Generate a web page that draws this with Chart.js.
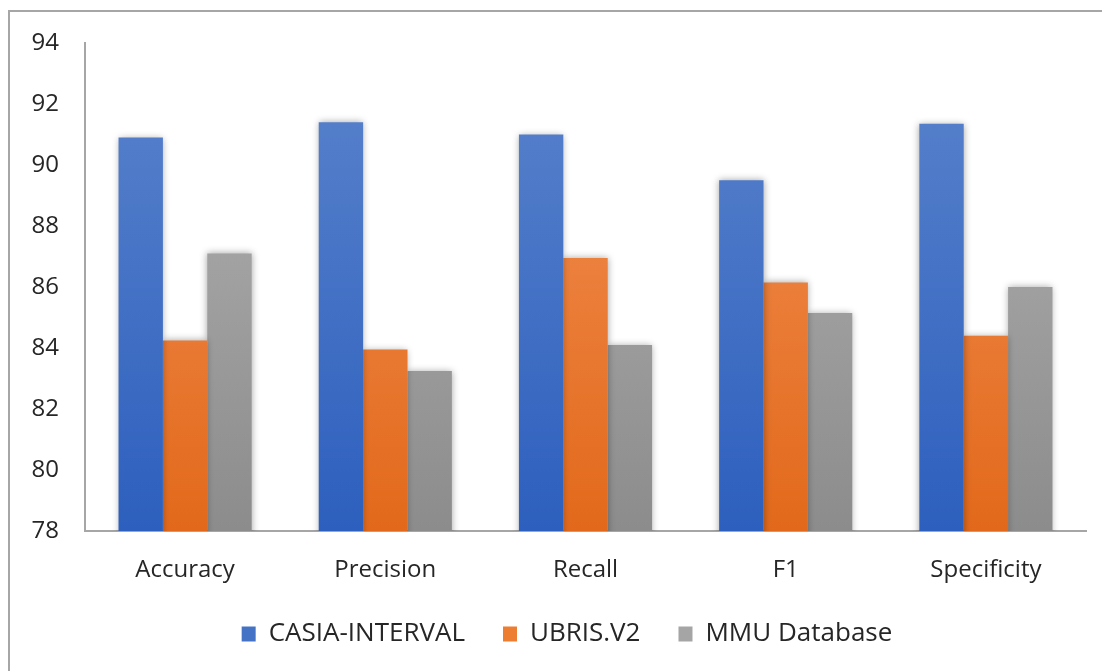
<!DOCTYPE html>
<html>
<head>
<meta charset="utf-8">
<script src="https://cdn.jsdelivr.net/npm/chart.js@4.4.1/dist/chart.umd.min.js"></script>
<style>
    html, body { margin: 0; padding: 0; background: #fff; }
    #frame {
        position: absolute; left: 8px; top: 10px; width: 1200px; height: 800px;
        border-top: 2px solid #a6a6a6; border-left: 2px solid #a6a6a6;
    }
    #wrap { position: absolute; left: 0; top: 0; width: 1102px; height: 671px; }
</style>
</head>
<body>
<div id="frame"></div>
<div id="wrap"><canvas id="chart"></canvas></div>
<script>
// valores
const categories = ['Accuracy', 'Precision', 'Recall', 'F1', 'Specificity'];
const casiaValues = [90.9, 91.4, 91.0, 89.5, 91.35];
const ubrisValues = [84.25, 83.95, 86.95, 86.15, 84.4];
const mmuValues = [87.1, 83.25, 84.1, 85.15, 86.0];
const yTicks = [78, 80, 82, 84, 86, 88, 90, 92, 94];

const FONT = '"Open Sans", sans-serif';

// degradê vertical estilo Excel
function gradient(top, bottom, solid) {
    return function (context) {
        const area = context.chart.chartArea;
        if (!area) return solid;
        const g = context.chart.ctx.createLinearGradient(0, area.top, 0, area.bottom);
        g.addColorStop(0, top);
        g.addColorStop(1, bottom);
        return g;
    };
}

// sombra suave nas barras
const barShadow = {
    id: 'barShadow',
    beforeDatasetsDraw(chart) {
        const ctx = chart.ctx;
        ctx.save();
        ctx.shadowColor = 'rgba(0, 0, 0, 0.35)';
        ctx.shadowBlur = 7;
        ctx.shadowOffsetX = 0;
        ctx.shadowOffsetY = 0;
    },
    afterDatasetsDraw(chart) {
        chart.ctx.restore();
    }
};

// ajusta a posição da legenda (o padding grande dos itens empurra ela pra baixo)
const legendShift = {
    id: 'legendShift',
    afterLayout(chart) {
        const lg = chart.legend;
        if (lg) {
            lg.top -= 8;
            lg.bottom -= 8;
            lg.left += 24;
            lg.right += 24;
        }
    }
};

new Chart(document.getElementById('chart'), {
    type: 'bar',
    data: {
        labels: categories,
        datasets: [
            { label: 'CASIA-INTERVAL', data: casiaValues, backgroundColor: gradient('#5b84cc', '#2d5fbe', '#4472c4') },
            { label: 'UBRIS.V2', data: ubrisValues, backgroundColor: gradient('#f39257', '#e2691b', '#ed7d31') },
            { label: 'MMU Database', data: mmuValues, backgroundColor: gradient('#b3b3b3', '#8c8c8c', '#a5a5a5') }
        ]
    },
    options: {
        responsive: true,
        maintainAspectRatio: false,
        animation: false,
        datasets: { bar: { categoryPercentage: 0.665, barPercentage: 1.0 } },
        layout: { padding: { left: 0, right: 16, top: 43, bottom: 6 } },
        plugins: {
            tooltip: { enabled: false },
            legend: {
                position: 'bottom',
                labels: {
                    font: { family: FONT, size: 26 },
                    color: '#262626',
                    boxWidth: 14,
                    boxHeight: 15,
                    padding: 38,
                    generateLabels(chart) {
                        const solid = ['#4472c4', '#ed7d31', '#a5a5a5'];
                        return chart.data.datasets.map((ds, i) => ({
                            text: ds.label,
                            fillStyle: solid[i],
                            strokeStyle: solid[i],
                            lineWidth: 0,
                            fontColor: '#262626',
                            datasetIndex: i
                        }));
                    }
                }
            }
        },
        scales: {
            x: {
                grid: { display: false, drawTicks: false },
                border: { display: true, color: '#a6a6a6', width: 2 },
                ticks: { font: { family: FONT, size: 24 }, color: '#262626', padding: 25 },
                afterFit(scale) { scale.height = 60; }
            },
            y: {
                min: 78,
                max: 94,
                afterBuildTicks(scale) { scale.ticks = yTicks.map(v => ({ value: v })); },
                grid: { display: false, drawTicks: false },
                border: { display: true, color: '#a6a6a6', width: 2 },
                ticks: { font: { family: FONT, size: 24 }, color: '#262626', padding: 26 },
                afterFit(scale) { scale.width = 85; }
            }
        }
    },
    plugins: [barShadow, legendShift]
});
</script>
</body>
</html>
